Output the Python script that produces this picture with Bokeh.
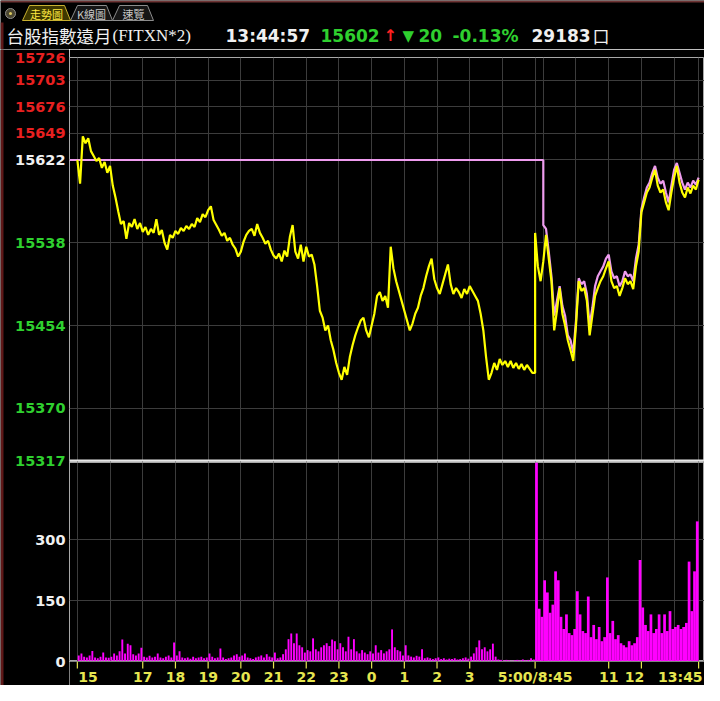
from bokeh.plotting import figure
from bokeh.models import Range1d, FixedTicker, Grid, Span
from bokeh.layouts import column, row
from bokeh.core.properties import value
from bokeh.embed import file_html
from bokeh.resources import INLINE

# ---------------- data ----------------
REF_PRICE = 15622
# futures price, 5-minute samples, night session 15:00 -> 05:00
night_price = [15622,15598,15646,15639,15644,15631,15626,15621,15624,15614,
 15620,15609,15616,15596,15584,15570,15557,15560,15542,15558,
 15554,15562,15552,15558,15549,15554,15546,15552,15548,15562,
 15546,15551,15538,15531,15546,15543,15550,15547,15553,15550,
 15555,15552,15557,15554,15563,15559,15567,15564,15571,15575,
 15561,15556,15551,15545,15548,15540,15543,15536,15532,15524,
 15529,15539,15546,15550,15552,15545,15557,15548,15543,15537,
 15540,15531,15525,15522,15527,15519,15530,15524,15544,15556,
 15529,15522,15536,15519,15534,15524,15526,15516,15494,15469,
 15462,15449,15454,15439,15429,15416,15406,15399,15412,15404,
 15422,15434,15444,15452,15459,15462,15449,15442,15454,15466,
 15484,15488,15479,15484,15472,15534,15512,15499,15489,15479,
 15469,15459,15449,15456,15466,15472,15484,15492,15504,15514,
 15522,15501,15492,15486,15496,15506,15516,15496,15486,15492,
 15488,15482,15491,15486,15494,15489,15484,15479,15466,15449,
 15422,15399,15406,15416,15409,15420,15414,15418,15412,15418,
 15411,15416,15410,15415,15409,15414,15410,15406,15406]
# futures price, 5-minute samples, day session 08:45 -> 13:45
day_price = [15548,15514,15499,15519,15546,15522,15499,15449,15469,15492,
 15466,15454,15439,15429,15418,15454,15499,15489,15492,15479,
 15444,15464,15484,15492,15499,15504,15512,15519,15499,15492,
 15494,15484,15492,15502,15496,15499,15491,15514,15529,15569,
 15579,15589,15594,15604,15612,15596,15589,15592,15579,15571,
 15589,15604,15616,15599,15589,15584,15594,15588,15596,15592,
 15602]
# spot index (pink), 5-minute samples from 09:00
spot_price = [15556,15552,15529,15504,15464,15479,15494,15474,15464,15444,
 15439,15426,15459,15502,15496,15499,15486,15454,15472,15494,
 15504,15509,15514,15522,15526,15509,15502,15504,15494,15499,
 15509,15504,15506,15499,15522,15536,15572,15584,15594,15599,
 15609,15616,15604,15598,15601,15589,15579,15596,15612,15619,
 15609,15599,15592,15599,15594,15601,15597,15604]
# volume per 5-minute bar
night_vol = [15,20,12,10,15,26,10,8,12,22,
 10,9,12,20,15,25,54,20,44,40,
 18,15,20,34,12,10,14,10,12,20,
 10,8,12,15,10,47,15,25,10,8,
 10,7,12,8,10,12,8,10,20,12,
 8,10,32,10,6,8,10,15,18,12,
 15,20,10,8,6,10,12,15,10,18,
 12,10,22,8,10,18,30,55,69,45,
 69,40,35,22,28,25,57,30,25,35,
 40,45,38,54,50,30,45,35,25,61,
 30,55,25,20,28,22,18,25,20,40,
 22,28,20,25,30,79,35,28,25,15,
 40,15,12,10,14,12,30,8,10,8,
 6,8,10,6,8,5,7,6,8,5,
 6,8,10,7,12,20,35,52,30,35,
 25,30,44,12,5,4,3,4,3,2,
 3,4,3,5,3,4,8,5]
day_vol = [520,130,110,200,170,120,140,222,200,110,
 80,116,70,65,80,173,116,75,70,160,
 60,90,55,85,50,60,207,70,100,55,
 65,45,40,35,50,40,45,60,250,133,
 90,75,116,70,80,116,70,116,75,124,
 80,85,90,80,85,95,246,124,222,345]

price_up_ticks = [15726, 15703, 15676, 15649]
price_ref_ticks = [15622]
price_dn_ticks = [15538, 15454, 15370, 15317]
vol_ticks = [0, 150, 300]
HOUR_GRID = ["15:00","16:00","17:00","18:00","19:00","20:00","21:00","22:00","23:00",
             "00:00","01:00","02:00","03:00","04:00","05:00",
             "09:00","10:00","11:00","12:00","13:00","13:45"]
XTICK_TIMES = ["15:00","17:00","18:00","19:00","20:00","21:00","22:00","23:00",
               "00:00","01:00","02:00","03:00","05:00","11:00","12:00","13:45"]
XTICK_LABELS = ["15","17","18","19","20","21","22","23","0","1","2","3",
                "5:00/8:45","11","12","13:45"]

def tidx(t):
    h, m = map(int, t.split(":"))
    mins = h * 60 + m
    if h >= 15:
        return mins - 900
    if h <= 5:
        return mins + 540
    return 840 + mins - 525

STEP = 5
night_x = [tidx("15:00") + STEP * i for i in range(len(night_price))]
day_x = [tidx("08:45") + STEP * i for i in range(len(day_price))]
spot_x = [tidx("09:00") + STEP * i for i in range(len(spot_price))]
nvol_x = [tidx("15:00") + STEP * i + STEP / 2 for i in range(len(night_vol))]
dvol_x = [tidx("08:45") + STEP * i + STEP / 2 for i in range(len(day_vol))]

# ---------------- layout / style ----------------
X_START, X_END = -14.4, 1150.8
PRICE_TOP, PRICE_BOT = 15726, 15315
VOL_TOP = 490
TOTAL_W = 704
LAB_W = 69
FRAME_W = TOTAL_W - LAB_W
HEAD_H = 49
P_TOP_PAD, P_FRAME_H = 8, 405
V_FRAME_H, STRIP_H = 199, 24

BG = "#000000"
GRID = "#3c3c3c"
FRAME = "#a8a8a8"
YELLOW = "#ffff00"
PINK = "#ee9cee"
MAGENTA = "#ff00ff"
RED = "#e82020"
GREEN = "#2fd02f"
WHITE = "#f0f0f0"
XLAB = "#e6e650"
EDGE = "#5e1818"
NUMFONT = value("DejaVu Sans")
CJK = value("Noto Sans CJK TC")

def base_fig(width, height, mbt=0, **kw):
    return figure(width=width, height=height, toolbar_location=None, output_backend="svg",
                  background_fill_color=BG, border_fill_color=BG,
                  min_border_left=0, min_border_right=0,
                  min_border_top=mbt, min_border_bottom=0,
                  x_axis_location=None, y_axis_location=None, **kw)

hour_ticks = [tidx(t) for t in HOUR_GRID]
x_rng = Range1d(X_START, X_END)

# ---- price panel ----
pp = base_fig(FRAME_W, P_TOP_PAD + P_FRAME_H, mbt=P_TOP_PAD, x_range=x_rng,
              y_range=Range1d(PRICE_BOT, PRICE_TOP), outline_line_color=FRAME)
pp.grid.visible = False
pp.add_layout(Grid(dimension=0, ticker=FixedTicker(ticks=hour_ticks), grid_line_color=GRID))
pp.add_layout(Grid(dimension=1, ticker=FixedTicker(ticks=price_up_ticks[1:] + price_ref_ticks + price_dn_ticks[:-1]),
                   grid_line_color=GRID))
pp.add_layout(Span(location=price_dn_ticks[-1], dimension="width", line_color="#e6e6e6", line_width=2))
pp.line([X_START, tidx("09:00")] + spot_x, [REF_PRICE, REF_PRICE] + spot_price,
        line_color=PINK, line_width=2.2)
pp.line(night_x + day_x, night_price + day_price, line_color=YELLOW, line_width=2.2)

# ---- volume panel ----
vp = base_fig(FRAME_W, V_FRAME_H, x_range=x_rng, y_range=Range1d(0, VOL_TOP),
              outline_line_color=FRAME)
vp.grid.visible = False
vp.add_layout(Grid(dimension=0, ticker=FixedTicker(ticks=hour_ticks), grid_line_color=GRID))
vp.add_layout(Grid(dimension=1, ticker=FixedTicker(ticks=vol_ticks[1:]), grid_line_color=GRID))
vp.vbar(x=nvol_x, width=STEP * 0.7, top=night_vol, bottom=0, fill_color=MAGENTA, line_color=None)
vp.vbar(x=dvol_x, width=STEP, top=day_vol, bottom=0, fill_color=MAGENTA, line_color=None)

# ---- time-label strip under the volume panel ----
sf = base_fig(FRAME_W, STRIP_H, x_range=x_rng, y_range=Range1d(STRIP_H, 0), outline_line_color=None)
sf.grid.visible = False
xt = [tidx(t) for t in XTICK_TIMES]
sf.segment(x0=xt, y0=[0] * len(xt), x1=xt, y1=[7] * len(xt), line_color=XLAB, line_width=1.2)
label_kw = dict(text_color=XLAB, text_baseline="middle", text_font=NUMFONT,
                text_font_style="bold", text_font_size="14px")
LY = 15
sf.text(x=xt[:1], y=[LY], text=XTICK_LABELS[:1], text_align="left", x_offset=1, **label_kw)
sf.text(x=xt[1:-2], y=[LY] * (len(xt) - 3), text=XTICK_LABELS[1:-2], text_align="center", **label_kw)
sf.text(x=xt[-2:-1], y=[LY], text=XTICK_LABELS[-2:-1], text_align="center", x_offset=-7, **label_kw)
sf.text(x=xt[-1:], y=[LY], text=XTICK_LABELS[-1:], text_align="right", x_offset=4, **label_kw)

# ---- left tick-label column ----
k = (PRICE_TOP - PRICE_BOT) / P_FRAME_H
kv = VOL_TOP / V_FRAME_H
lab_h = P_TOP_PAD + P_FRAME_H + V_FRAME_H + STRIP_H
lab_lo = PRICE_BOT - (V_FRAME_H + STRIP_H) * k
lab_hi = PRICE_TOP + P_TOP_PAD * k
lf = base_fig(LAB_W, lab_h, x_range=Range1d(0, LAB_W), y_range=Range1d(lab_lo, lab_hi),
              outline_line_color=None)
lf.extra_y_ranges = {"vol": Range1d(-STRIP_H * kv, VOL_TOP + (P_TOP_PAD + P_FRAME_H) * kv)}
lf.grid.visible = False
lf.quad(left=[0], right=[3], bottom=[lab_lo], top=[lab_hi], fill_color=EDGE, line_color=None)
ptick = price_up_ticks + price_ref_ticks + price_dn_ticks
pcol = [RED] * len(price_up_ticks) + [WHITE] * len(price_ref_ticks) + [GREEN] * len(price_dn_ticks)
LX = LAB_W - 4
lf.text(x=[LX] * len(ptick), y=ptick, text=[str(v) for v in ptick], text_color=pcol,
        text_align="right", text_baseline="middle", text_font=NUMFONT,
        text_font_style="bold", text_font_size="14.5px")
lf.text(x=[LX] * len(vol_ticks), y=vol_ticks, text=[str(v) for v in vol_ticks], text_color=WHITE,
        text_align="right", text_baseline="middle", text_font=NUMFONT,
        text_font_style="bold", text_font_size="14.5px", y_range_name="vol")

# ---- header ----
hf = base_fig(TOTAL_W, HEAD_H, x_range=Range1d(0, TOTAL_W), y_range=Range1d(HEAD_H, 0),
              outline_line_color=None)
hf.grid.visible = False
hf.quad(left=[0], right=[TOTAL_W], top=[0], bottom=[2], fill_color="#6e3434", line_color=None)
hf.quad(left=[0], right=[3], top=[22], bottom=[HEAD_H], fill_color=EDGE, line_color=None)
# tabs
hf.patches(xs=[[70, 77, 106, 112], [112, 119, 147, 153]], ys=[[20, 5, 5, 20], [20, 5, 5, 20]],
           fill_color="#161616", line_color="#8c8c8c", line_width=1)
hf.patch([22, 29, 64, 70], [20, 5, 5, 20], fill_color="#3e3800", line_color="#c8b030", line_width=1)
hf.circle(x=[10], y=[13], radius=5, fill_color="#4a4530", line_color="#909090")
hf.circle(x=[10], y=[13], radius=1.5, fill_color="#d8c860", line_color=None)
hf.text(x=[46], y=[13], text=["走勢圖"], text_color="#ffe840", text_align="center",
        text_baseline="middle", text_font=CJK, text_font_size="11px")
hf.text(x=[91, 133], y=[13, 13], text=["K線圖", "速覽"], text_color="#c8c8c8", text_align="center",
        text_baseline="middle", text_font=CJK, text_font_size="11px")
TY = 35
hf.text(x=[6], y=[TY - 0.5], text=["台股指數遠月"], text_color=WHITE, text_baseline="middle",
        text_font=CJK, text_font_size="17.5px")
hf.text(x=[112], y=[TY], text=["(FITXN*2)"], text_color=WHITE, text_baseline="middle",
        text_font=value("Liberation Serif"), text_font_size="17px")
hf.text(x=[225, 320, 452, 531, 418], y=[TY] * 5,
        text=["13:44:57", "15602", "-0.13%", "29183", "20"],
        text_color=[WHITE, GREEN, GREEN, WHITE, GREEN], text_baseline="middle",
        text_font=NUMFONT, text_font_style="bold", text_font_size="17px")
hf.text(x=[383], y=[TY], text=["↑"], text_color="#ff2020", text_baseline="middle",
        text_font=NUMFONT, text_font_style="bold", text_font_size="16px")
hf.text(x=[402], y=[TY], text=["▼"], text_color=GREEN, text_baseline="middle",
        text_font=NUMFONT, text_font_size="15px")
hf.text(x=[592], y=[TY], text=["口"], text_color=WHITE, text_baseline="middle",
        text_font=CJK, text_font_size="17px")

layout = column(hf, row(lf, column(pp, vp, sf, spacing=0), spacing=0), spacing=0)

open("out.html", "w").write(file_html(layout, INLINE))
